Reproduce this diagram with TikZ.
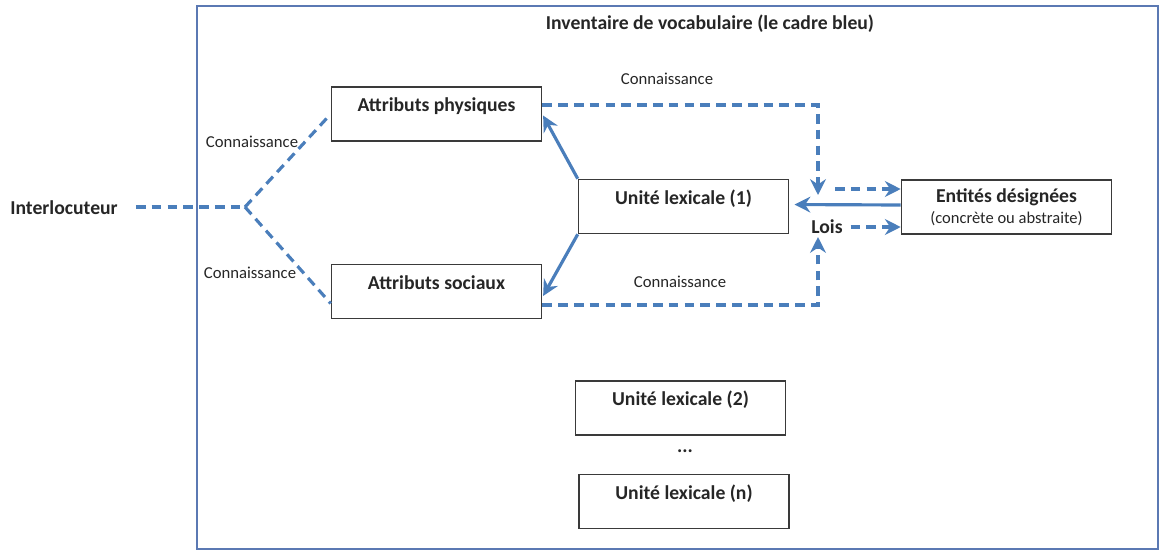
\documentclass[tikz,border=0pt]{standalone}
\usepackage{fontspec}
\setmainfont{Carlito}
\usetikzlibrary{arrows.meta, positioning}
\definecolor{bleuOffice}{HTML}{4A7EBB}
\definecolor{bleuCadre}{HTML}{5B79B3}
\definecolor{grisTrait}{HTML}{3A3A3A}
\definecolor{grisTexte}{HTML}{262626}
\tikzset{
x=0.02cm, y=-0.02cm, % one unit is one pixel of the original picture
>={Stealth[length=9pt,width=9pt,inset=3pt]}, % arrow heads like the office ones
boite/.style={draw=grisTrait, line width=0.9pt, minimum width=4.2cm, minimum height=1.08cm, text height=0.3cm, text depth=0.4cm, font=\fontsize{11.2}{13}\selectfont\bfseries, text=grisTexte}, % box with its text near the top
gras/.style={font=\fontsize{11.2}{13}\selectfont\bfseries, text=grisTexte}, % bold labels
etiquette/.style={font=\fontsize{9.5}{11}\selectfont, text=grisTexte, inner sep=1pt}, % small labels
lien/.style={->, draw=bleuOffice, line width=1.8pt}, % solid connector
liendash/.style={lien, dash pattern=on 5.5pt off 3.5pt}, % dashed connector
cadre/.style={draw=bleuCadre, line width=0.7pt}, % the blue frame
}
\begin{document}
\begin{tikzpicture}
        \useasboundingbox (0,0) rectangle (1161,552);
        \draw[cadre] (197,6) rectangle (1158,549);
        \node[gras] (titre) at (710,24) {Inventaire de vocabulaire (le cadre bleu)};

        \node[gras] (interloc) at (64,208) {Interlocuteur};
        \node[boite] (physique) at (436.5,114) {Attributs physiques};
        \node[boite] (social) at (436.5,291.5) {Attributs sociaux};
        \node[boite] (unite1) at (683.5,206.5) {Unité lexicale (1)};
        \node[boite, text height=, text depth=, align=center] (entites) at (1006.5,207)
        {Entités désignées\\[-1pt]{\fontsize{9.4}{11}\selectfont\mdseries (concrète ou abstraite)}};
        \node[boite] (unite2) at (680.5,408) {Unité lexicale (2)};
        \node[gras] (dots) at (685,451) {...};
        \node[boite] (uniten) at (684,501.5) {Unité lexicale (n)};
        \node[gras] (lois) at (827,227) {Lois};

        \node[etiquette] (c1) at (252,142) {Connaissance};
        \node[etiquette] (c2) at (250,273) {Connaissance};
        \node[etiquette] (c3) at (667,79) {Connaissance};
        \node[etiquette] (c4) at (680,282) {Connaissance};

        \coordinate (fourche) at (245,207);
        \coordinate (cible1) at (818,195);
        \coordinate (cible2) at (818,237);
        \coordinate (depart1) at (835,189);

        % interlocuteur side
        \draw[liendash, -] (interloc.east) ++(12,-1) coordinate (i0) (i0) -- (fourche);
        \draw[liendash, -] (fourche) -- (physique.west);
        \draw[liendash, -] (fourche) -- ([yshift=-0.24cm]social.west);

        % knowledge towards the laws
        \draw[liendash] ([yshift=0.18cm]physique.east) -| (cible1);
        \draw[liendash] ([yshift=-0.27cm]social.east) -| (cible2);
        \draw[liendash] (depart1) -- (depart1 -| entites.west);
        \draw[liendash, shorten <=1pt] (lois.east) -- (lois.east -| entites.west);

        % solid links
        \draw[lien, shorten >=3pt] ([yshift=0.04cm]entites.west) -- ([yshift=0.04cm]unite1.east);
        \draw[lien, shorten >=1pt] (unite1.north west) -- (physique.east);
        \draw[lien, shorten >=1pt] (unite1.south west) -- ([yshift=-0.12cm]social.east);
      \end{tikzpicture}
\end{document}
